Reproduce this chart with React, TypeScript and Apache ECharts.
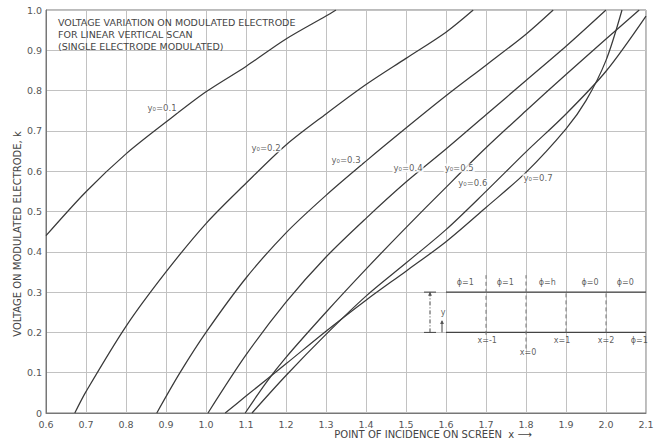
import { useEffect, useRef } from 'react';
import * as echarts from 'echarts';

// Curve values: [x, k]
const curveY01: [number, number][] = [[0.6, 0.44], [0.7, 0.549], [0.8, 0.643], [0.9, 0.722], [1.0, 0.797], [1.1, 0.86], [1.2, 0.928], [1.3, 0.985], [1.325, 1.0]];
const curveY02: [number, number][] = [[0.672, 0], [0.7, 0.053], [0.8, 0.215], [0.9, 0.35], [1.0, 0.47], [1.1, 0.57], [1.2, 0.665], [1.3, 0.742], [1.4, 0.815], [1.5, 0.88], [1.6, 0.945], [1.668, 1.0]];
const curveY03: [number, number][] = [[0.877, 0], [0.935, 0.1], [1.0, 0.2], [1.1, 0.335], [1.2, 0.447], [1.3, 0.54], [1.4, 0.625], [1.5, 0.707], [1.6, 0.787], [1.7, 0.863], [1.8, 0.94], [1.868, 1.0]];
const curveY04: [number, number][] = [[1.005, 0], [1.1, 0.144], [1.2, 0.275], [1.3, 0.387], [1.4, 0.483], [1.5, 0.573], [1.6, 0.655], [1.7, 0.74], [1.8, 0.825], [1.9, 0.91], [2.0, 1.0]];
const curveY05: [number, number][] = [[1.098, 0], [1.15, 0.075], [1.2, 0.138], [1.3, 0.25], [1.4, 0.357], [1.5, 0.46], [1.6, 0.56], [1.7, 0.658], [1.8, 0.75], [1.9, 0.84], [2.0, 0.928], [2.083, 1.0]];
const curveY06: [number, number][] = [[1.115, 0], [1.2, 0.093], [1.3, 0.195], [1.4, 0.29], [1.5, 0.372], [1.6, 0.455], [1.7, 0.55], [1.8, 0.648], [1.9, 0.742], [2.0, 0.848], [2.1, 0.985]];
const curveY07: [number, number][] = [[1.048, 0], [1.1, 0.042], [1.2, 0.122], [1.3, 0.203], [1.4, 0.28], [1.5, 0.352], [1.6, 0.425], [1.7, 0.51], [1.8, 0.597], [1.9, 0.705], [1.95, 0.775], [2.0, 0.875], [2.04, 1.0]];

const curveNames = ['y₀=0.1', 'y₀=0.2', 'y₀=0.3', 'y₀=0.4', 'y₀=0.5', 'y₀=0.6', 'y₀=0.7'];
const curveLabelX = [0.89, 1.15, 1.35, 1.505, 1.633, 1.667, 1.83];
const curveLabelY = [0.757, 0.658, 0.628, 0.608, 0.608, 0.571, 0.583];

// Inset sketch (bottom right)
const insetUpperLine: [number, number][] = [[1.6, 0.3], [2.1, 0.3]];
const insetLowerLine: [number, number][] = [[1.6, 0.2], [2.1, 0.2]];
const insetTickUpper: [number, number][] = [[1.545, 0.3], [1.575, 0.3]];
const insetTickLower: [number, number][] = [[1.545, 0.2], [1.575, 0.2]];
const insetYArrow: [number, number][] = [[1.56, 0.2], [1.56, 0.3]];
const insetYSmallArrow: [number, number][] = [[1.59, 0.2], [1.59, 0.228]];
const insetDashX = [1.7, 1.8, 1.9, 2.0];
const insetDashTop = [0.342, 0.342, 0.3, 0.3];
const insetDashBottom = [0.194, 0.16, 0.2, 0.2];
const insetLabelText = ['ϕ=1', 'ϕ=1', 'ϕ=h', 'ϕ=0', 'ϕ=0', 'x=-1', 'x=0', 'x=1', 'x=2', 'ϕ=1', 'y'];
const insetLabelX = [1.648, 1.748, 1.853, 1.96, 2.048, 1.703, 1.805, 1.89, 2.0, 2.083, 1.593];
const insetLabelY = [0.323, 0.323, 0.323, 0.323, 0.323, 0.181, 0.151, 0.181, 0.181, 0.181, 0.25];

const titleLines = ['VOLTAGE VARIATION ON MODULATED ELECTRODE', 'FOR LINEAR VERTICAL SCAN', '(SINGLE ELECTRODE MODULATED)'];
const xAxisTitle = 'POINT OF INCIDENCE ON SCREEN  x ⟶';
const yAxisTitle = 'VOLTAGE ON MODULATED ELECTRODE, k';

const FONT = 'DejaVu Sans';
const INK = '#3a3a3a';

export default function App() {
  const ref = useRef<HTMLDivElement>(null);
  useEffect(() => {
    document.body.style.margin = '0';
    document.body.style.overflow = 'hidden';
    const chart = echarts.init(ref.current!, undefined, { renderer: 'svg' });
    const curves = [curveY01, curveY02, curveY03, curveY04, curveY05, curveY06, curveY07];
    const seg = (data: [number, number][], width: number, type: any = 'solid', color = '#444') => ({
      type: 'line', data, symbol: 'none', silent: true, z: 3,
      lineStyle: { color, width, type },
    });
    const series: any[] = curves.map((d, i) => ({
      type: 'line', name: curveNames[i], data: d, symbol: 'none', smooth: 0.3,
      silent: true, z: 4, lineStyle: { color: INK, width: 1.25 },
    }));
    series.push(seg(insetUpperLine, 1.3));
    series.push(seg(insetLowerLine, 1.3));
    series.push(seg(insetTickUpper, 1));
    series.push(seg(insetTickLower, 1));
    series.push(seg(insetYArrow, 1, [4, 2, 1, 2]));
    series.push(seg(insetYSmallArrow, 1));
    insetDashX.forEach((x, i) => {
      series.push(seg([[x, insetDashBottom[i]], [x, insetDashTop[i]]], 1, [4, 3], '#777'));
    });
    series.push({
      type: 'scatter', silent: true, z: 5, symbol: 'triangle', symbolSize: 4,
      itemStyle: { color: '#444' },
      data: [[1.56, 0.296], [1.59, 0.226]],
    });
    series.push({
      type: 'scatter', silent: true, z: 6, symbolSize: 0,
      data: curveNames.map((t, i) => ({ name: t, value: [curveLabelX[i], curveLabelY[i]] })),
      label: { show: true, position: 'inside', formatter: '{b}', color: '#333', fontSize: 8.5, fontFamily: FONT,
        backgroundColor: '#fff', padding: [0, 1] },
    });
    series.push({
      type: 'scatter', silent: true, z: 6, symbolSize: 0,
      data: insetLabelText.map((t, i) => ({ name: t, value: [insetLabelX[i], insetLabelY[i]] })),
      label: { show: true, position: 'inside', formatter: '{b}', color: '#333', fontSize: 8, fontFamily: FONT },
    });

    chart.setOption({
      animation: false,
      textStyle: { fontFamily: FONT },
      grid: { left: 46, right: 15, top: 10, bottom: 30, show: true, borderColor: '#777', borderWidth: 1, backgroundColor: 'transparent' },
      title: {
        text: titleLines.join('\n'), left: 53, top: 11,
        textStyle: { fontSize: 9.5, fontWeight: 'normal', color: '#444', lineHeight: 12.3, fontFamily: FONT },
      },
      xAxis: {
        type: 'value', min: 0.6, max: 2.1, interval: 0.1,
        axisLine: { show: true, lineStyle: { color: '#777' } },
        axisTick: { show: false },
        axisLabel: { color: '#555', fontSize: 9.5, margin: 6, formatter: (v: number) => v.toFixed(1) },
        splitLine: { show: true, lineStyle: { color: '#c2c2c2', width: 1 } },
      },
      yAxis: {
        type: 'value', min: 0, max: 1, interval: 0.1,
        axisLine: { show: true, lineStyle: { color: '#777' } },
        axisTick: { show: false },
        axisLabel: { color: '#555', fontSize: 9.5, margin: 4, formatter: (v: number) => (v === 0 ? '0' : v.toFixed(1)) },
        splitLine: { show: true, lineStyle: { color: '#c2c2c2', width: 1 } },
      },
      graphic: [
        {
          type: 'text', x: 17, y: 234, rotation: Math.PI / 2,
          style: { text: yAxisTitle, fill: '#444', fontSize: 10, fontFamily: FONT, align: 'center', verticalAlign: 'middle', textAlign: 'center', textVerticalAlign: 'middle' },
        },
        {
          type: 'text', x: 433, y: 434,
          style: { text: xAxisTitle, fill: '#444', fontSize: 10, fontFamily: FONT, align: 'center', verticalAlign: 'middle', textAlign: 'center', textVerticalAlign: 'middle' },
        },
      ],
      series,
    });
    return () => chart.dispose();
  }, []);
  return <div ref={ref} style={{ width: 661, height: 443 }} />;
}
